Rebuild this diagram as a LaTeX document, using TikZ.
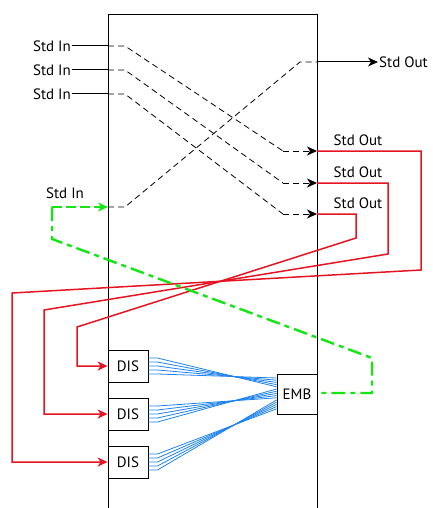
\documentclass[tikz,border=0pt]{standalone}
\usepackage{fontspec}
\setmainfont{PT Sans}
\usetikzlibrary{arrows.meta}
\definecolor{outred}{RGB}{230,20,35}
\definecolor{ingreen}{RGB}{20,230,20}
\definecolor{busblue}{RGB}{30,130,240}
\tikzset{tip/.style = {-{Stealth[length=10pt, width=9pt, inset=3pt]}},
         lbl/.style = {font=\fontsize{15}{17}\selectfont, inner sep=1pt},
         blk/.style = {draw, line width=0.9pt, minimum width=40pt, minimum height=32pt,
                       inner sep=0pt, fill=white, font=\fontsize{15}{17}\selectfont},
         route/.style = {dash pattern=on 6pt off 4pt, line width=0.8pt},
         redline/.style = {draw=outred, line width=1.5pt},
         greenline/.style = {draw=ingreen, line width=2.4pt},
         busline/.style = {draw=busblue, line width=0.8pt}}

\begin{document}
\begin{tikzpicture}[x=1pt, y=-1pt]
    \useasboundingbox (0, 0) rectangle (432, 508);
    % the box
    \draw [line width=0.9pt] (108, 508) |- (317, 14) -- (317, 508);

    % ports on the walls
    \coordinate (pin1) at (108, 46);
    \coordinate (pin2) at (108, 70);
    \coordinate (pin3) at (108, 94);
    \coordinate (pin4) at (108, 207);
    \coordinate (pout0) at (317, 62);
    \coordinate (pout1) at (317, 151);
    \coordinate (pout2) at (317, 183);
    \coordinate (pout3) at (317, 214);

    % inputs and outputs
    \node (in1) at (72, 46) [left, lbl] {Std In};
    \node (in2) at (72, 70) [left, lbl] {Std In};
    \node (in3) at (72, 94) [left, lbl] {Std In};
    \node (in4) at (65, 193) [lbl] {Std In};
    \node (out0) at (378, 62) [right, lbl] {Std Out};
    \node (out1) at (358, 140) [lbl] {Std Out};
    \node (out2) at (358, 172) [lbl] {Std Out};
    \node (out3) at (358, 203) [lbl] {Std Out};
    \foreach \i in {1, 2, 3}
      \draw [line width=1pt] (in\i.east) -- (pin\i);
    \draw [tip, line width=1pt] (pout0) -- (out0.west);

    % dashed routes through the box
    \draw [route] (pin1) -- ++(17, 0) -- (283, 151);
    \draw [route] (pin2) -- ++(17, 0) -- (283, 183);
    \draw [route] (pin3) -- ++(17, 0) -- (283, 214);
    \draw [route] (pin4) -- ++(17, 0) -- (300, 62) -- (pout0);
    \draw [route, tip] (283, 151) -- (pout1);
    \draw [route, tip] (283, 183) -- (pout2);
    \draw [route, tip] (283, 214) -- (pout3);

    % dis and emb blocks
    \node (dis1) at (128, 366) [blk] {DIS};
    \node (dis2) at (128, 414) [blk] {DIS};
    \node (dis3) at (128, 462) [blk] {DIS};
    \node (emb) at (297, 394) [blk, minimum height=40pt] {EMB};

    % red loops back
    \draw [redline, tip] (pout1) -- (421, 151) -- (421, 270) -- (12, 293) |- (dis3.west);
    \draw [redline, tip] (pout2) -- (388, 183) -- (388, 254) -- (44, 310) |- (dis2.west);
    \draw [redline, tip] (pout3) -- (356, 214) -- (356, 238) -- (77, 327) |- (dis1.west);

    % green input
    \coordinate (gstart) at (52, 207);
    \draw [greenline, dash pattern=on 10pt off 4pt, tip] (gstart) -- (pin4);
    \draw [greenline, dash pattern=on 14pt off 5pt on 5pt off 5pt]
      (gstart) -- (52, 239) -- (372, 358) -- (372, 393) -- (emb.east |- 0, 393);

    % blue bus lines
    \foreach \k in {1, 2, 3}
      \foreach \i in {0, ..., 4}
        \draw [busline] ([yshift=-8pt + 4*\i pt]dis\k.east) -- ++(9, 0)
          -- (emb.west |- 0, {378 + 2.2*(5*(\k-1) + \i)});
\end{tikzpicture}
\end{document}
